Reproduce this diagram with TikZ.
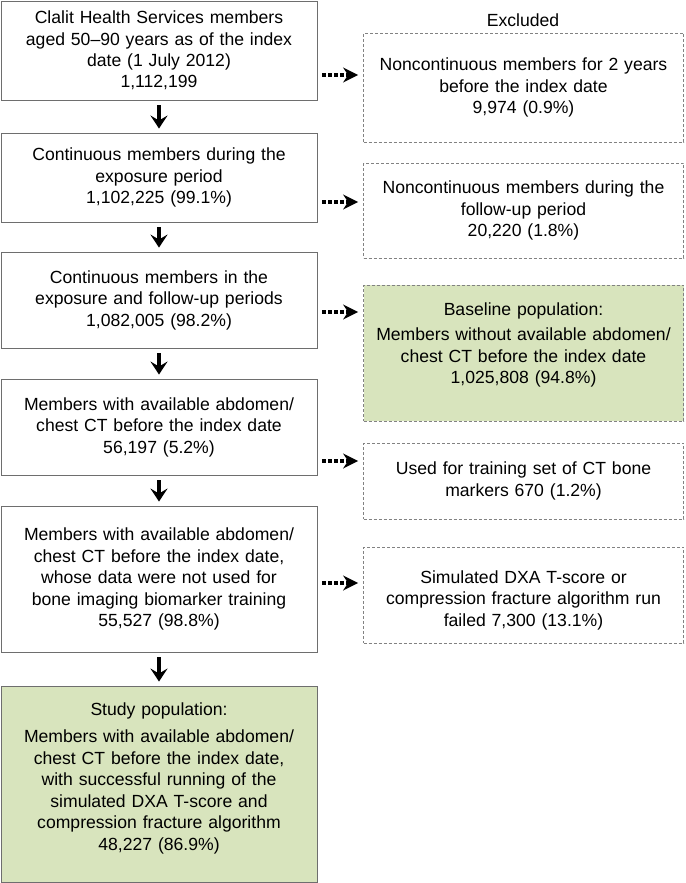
\documentclass[tikz,border=0pt]{standalone}
\usepackage{fontspec}
\setmainfont{Liberation Sans}
\usetikzlibrary{arrows.meta}
\definecolor{boxgreen}{RGB}{216,228,189}
\definecolor{solidgray}{RGB}{110,110,110}
\definecolor{dashgray}{RGB}{130,130,130}
\tikzset{
  txt/.style={font=\fontsize{17.6}{21.5}\selectfont, align=center, inner sep=0pt, text=black},
  lbox/.style={txt, draw=solidgray, line width=0.9pt, minimum width=316pt, text width=310pt},
  rbox/.style={txt, draw=dashgray, line width=0.8pt, dash pattern=on 3pt off 2pt, minimum width=320pt, text width=316pt},
  greenfill/.style={fill=boxgreen},
  darr/.style={line width=3.2pt, -{Stealth[length=13pt,width=17pt,inset=5pt]}, shorten <=5pt, shorten >=4pt},
  xarr/.style={line width=3.8pt, dash pattern=on 3.6pt off 2.4pt, -{Stealth[length=15pt,width=15pt,inset=5pt]}, shorten <=5pt, shorten >=5pt}
}
\begin{document}
\begin{tikzpicture}[x=1pt,y=-1pt]
\useasboundingbox (0,0) rectangle (685,883);
% left column
\node[lbox, minimum height=99pt] (b1) at (159,50.5) {Clalit Health Services members\\ aged 50--90 years as of the index\\ date (1 July 2012)\\ 1,112,199};
\node[lbox, minimum height=89pt] (b2) at (159,177.5) {Continuous members during the\\ exposure period\\ 1,102,225 (99.1\%)};
\node[lbox, minimum height=96pt] (b3) at (159,300) {Continuous members in the\\ exposure and follow-up periods\\ 1,082,005 (98.2\%)};
\node[lbox, minimum height=96pt] (b4) at (159,427) {Members with available abdomen/\\ chest CT before the index date\\ 56,197 (5.2\%)};
\node[lbox, minimum height=146pt] (b5) at (159,579) {Members with available abdomen/\\ chest CT before the index date,\\ whose data were not used for\\ bone imaging biomarker training\\ 55,527 (98.8\%)};
\node[lbox, greenfill, minimum height=196pt] (b6) at (159,784) {Study population:\\[6pt] Members with available abdomen/\\ chest CT before the index date,\\ with successful running of the\\ simulated DXA T-score and\\ compression fracture algorithm\\ 48,227 (86.9\%)\\[-5.8pt]\mbox{}};
% right column
\node[txt] (exc) at (523,20) {Excluded};
\node[rbox, minimum height=109pt] (r1) at (523.5,87.5) {Noncontinuous members for 2 years\\ before the index date\\ 9,974 (0.9\%)};
\node[rbox, minimum height=95pt] (r2) at (523.5,210.5) {Noncontinuous members during the\\ follow-up period\\ 20,220 (1.8\%)};
\node[rbox, greenfill, minimum height=136pt] (r3) at (523.5,353) {Baseline population:\\[4pt] Members without available abdomen/\\ chest CT before the index date\\ 1,025,808 (94.8\%)\\[-1.8pt]\mbox{}};
\node[rbox, minimum height=76pt] (r4) at (523.5,481) {Used for training set of CT bone\\ markers 670 (1.2\%)};
\node[rbox, minimum height=96pt] (r5) at (523.5,595) {\mbox{}\\[2pt]Simulated DXA T-score or\\ compression fracture algorithm run\\ failed 7,300 (13.1\%)};
% down arrows
\draw[darr] (b1) -- (b2);
\draw[darr] (b2) -- (b3);
\draw[darr] (b3) -- (b4);
\draw[darr] (b4) -- (b5);
\draw[darr] (b5) -- (b6);
% exclusion arrows
\draw[xarr] (b1.east |- 0,75) -- (r1.west |- 0,75);
\draw[xarr] (b2.east |- 0,202) -- (r2.west |- 0,202);
\draw[xarr] (b3.east |- 0,312) -- (r3.west |- 0,312);
\draw[xarr] (b4.east |- 0,461) -- (r4.west |- 0,461);
\draw[xarr] (b5.east |- 0,583) -- (r5.west |- 0,583);
\end{tikzpicture}
\end{document}
